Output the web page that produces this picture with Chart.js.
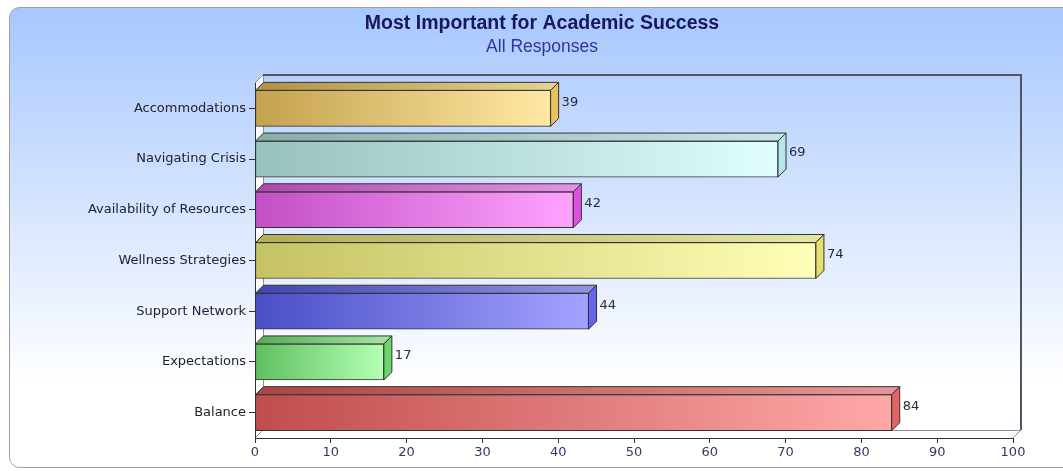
<!DOCTYPE html>
<html>
<head>
<meta charset="utf-8">
<title>Most Important for Academic Success</title>
<script src="https://cdn.jsdelivr.net/npm/chart.js@4.4.0/dist/chart.umd.min.js"></script>
<style>
  html, body { margin: 0; padding: 0; background: #fff; }
  canvas { display: block; }
</style>
</head>
<body>
<canvas id="chart" width="1063" height="471"></canvas>
<script>
const CATEGORIES = [
  'Accommodations',
  'Navigating Crisis',
  'Availability of Resources',
  'Wellness Strategies',
  'Support Network',
  'Expectations',
  'Balance',
];
const RESPONSES = [39, 69, 42, 74, 44, 17, 84];
const X_TICKS = [0, 10, 20, 30, 40, 50, 60, 70, 80, 90, 100];

// bar colours: gradient start/end of the front face, and the right-hand side face
const FRONT_LEFT = ['#c4a24e', '#97c1bd', '#c24fc4', '#c5c262', '#4a4ec6', '#5fbf5f', '#c04d4d'];
const FRONT_RIGHT = ['#ffe9a3', '#e0fefe', '#ffa3ff', '#ffffb8', '#a3a3ff', '#b3ffb3', '#ffa8a8'];
const SIDE = ['#e6c45a', '#b4e8e8', '#e050e0', '#e4e070', '#6464f0', '#6cd66c', '#e46464'];

const DEPTH = 8;
const LABEL_FONT = '"DejaVu Sans", Verdana, sans-serif';

function barGradient(chart, i, x0, x1) {
  const g = chart.ctx.createLinearGradient(x0, 0, x1, 0);
  g.addColorStop(0, FRONT_LEFT[i]);
  g.addColorStop(1, FRONT_RIGHT[i]);
  return g;
}

function frontFill(ctx) {
  const chart = ctx.chart;
  const i = ctx.dataIndex;
  if (i === undefined || !chart.chartArea) return FRONT_LEFT[0];
  const xs = chart.scales.x;
  return barGradient(chart, i, xs.getPixelForValue(0), xs.getPixelForValue(RESPONSES[i]));
}

function poly(ctx, pts) {
  ctx.beginPath();
  ctx.moveTo(pts[0][0], pts[0][1]);
  for (let k = 1; k < pts.length; k++) ctx.lineTo(pts[k][0], pts[k][1]);
  ctx.closePath();
}

// background panel plus the 3D box (back wall, left wall, floor)
const walls = {
  id: 'walls',
  beforeDraw(chart) {
    const { ctx, chartArea: a } = chart;
    const d = DEPTH;
    ctx.save();

    const bg = ctx.createLinearGradient(0, 7, 0, 468);
    bg.addColorStop(0, '#a7c7fe');
    bg.addColorStop(0.82, '#ffffff');
    ctx.beginPath();
    ctx.roundRect(9.5, 7.5, 1090, 460, 10);
    ctx.fillStyle = bg;
    ctx.fill();
    ctx.strokeStyle = '#a0a0a0';
    ctx.lineWidth = 1;
    ctx.stroke();

    ctx.fillStyle = '#ffffff';
    poly(ctx, [[a.left, a.top], [a.left + d, a.top - d], [a.left + d, a.bottom - d], [a.left, a.bottom]]);
    ctx.fill();
    poly(ctx, [[a.left, a.bottom], [a.left + d, a.bottom - d], [a.right + d, a.bottom - d], [a.right, a.bottom]]);
    ctx.fill();

    ctx.strokeStyle = '#8a8f99';
    ctx.lineWidth = 1;
    ctx.beginPath();
    ctx.moveTo(a.left + d + 0.5, a.top - d);
    ctx.lineTo(a.left + d + 0.5, a.bottom - d + 0.5);
    ctx.lineTo(a.right + d, a.bottom - d + 0.5);
    ctx.moveTo(a.left, a.top);
    ctx.lineTo(a.left + d, a.top - d);
    ctx.moveTo(a.left, a.bottom);
    ctx.lineTo(a.left + d, a.bottom - d);
    ctx.moveTo(a.right, a.bottom);
    ctx.lineTo(a.right + d, a.bottom - d);
    ctx.stroke();

    ctx.strokeStyle = '#4f5563';
    ctx.lineWidth = 2;
    ctx.beginPath();
    ctx.moveTo(a.left + d, a.top - d);
    ctx.lineTo(a.right + d, a.top - d);
    ctx.lineTo(a.right + d, a.bottom - d);
    ctx.stroke();
    ctx.restore();
  },
  afterDraw(chart) {
    const ctx = chart.ctx;
    ctx.save();
    ctx.textAlign = 'center';
    ctx.textBaseline = 'middle';
    ctx.fillStyle = '#17175e';
    ctx.font = 'bold 19.5px "Liberation Sans", Arial, sans-serif';
    ctx.fillText('Most Important for Academic Success', 542, 24);
    ctx.fillStyle = '#34349a';
    ctx.font = '17.5px "Liberation Sans", Arial, sans-serif';
    ctx.fillText('All Responses', 542, 47);
    ctx.restore();
  },
};

// top and side faces of each bar, and the value next to it
const bars3d = {
  id: 'bars3d',
  afterDatasetsDraw(chart) {
    const ctx = chart.ctx;
    const d = DEPTH;
    const meta = chart.getDatasetMeta(0);
    ctx.save();
    ctx.lineWidth = 1;
    ctx.strokeStyle = '#333333';
    meta.data.forEach((bar, i) => {
      const { x, y, base, height } = bar.getProps(['x', 'y', 'base', 'height'], true);
      const top = y - height / 2;
      const bottom = y + height / 2;

      poly(ctx, [[base, top], [base + d, top - d], [x + d, top - d], [x, top]]);
      ctx.fillStyle = barGradient(chart, i, base, x);
      ctx.fill();
      ctx.fillStyle = 'rgba(0, 0, 0, 0.1)';
      ctx.fill();
      ctx.stroke();

      poly(ctx, [[x, top], [x + d, top - d], [x + d, bottom - d], [x, bottom]]);
      ctx.fillStyle = SIDE[i];
      ctx.fill();
      ctx.stroke();

      ctx.fillStyle = '#2b2b38';
      ctx.font = '13px ' + LABEL_FONT;
      ctx.textAlign = 'left';
      ctx.textBaseline = 'middle';
      ctx.fillText(String(RESPONSES[i]), x + d + 3, y - 6);
    });
    ctx.restore();
  },
};

new Chart(document.getElementById('chart'), {
  type: 'bar',
  data: {
    labels: CATEGORIES,
    datasets: [{
      data: RESPONSES,
      backgroundColor: frontFill,
      borderColor: '#333333',
      borderWidth: 1,
      borderSkipped: false,
      barThickness: 36,
    }],
  },
  options: {
    indexAxis: 'y',
    responsive: false,
    animation: false,
    devicePixelRatio: 1,
    layout: { padding: { top: 83, right: 50, left: 0, bottom: 0 } },
    plugins: {
      legend: { display: false },
      tooltip: { enabled: false },
    },
    scales: {
      x: {
        min: 0,
        max: 100,
        afterBuildTicks: (scale) => { scale.ticks = X_TICKS.map((v) => ({ value: v })); },
        afterFit: (scale) => { scale.height = 33; },
        grid: { drawOnChartArea: false, tickLength: 5, color: '#333333' },
        border: { color: '#333333', width: 1 },
        ticks: {
          color: '#3a3466',
          font: { family: LABEL_FONT, size: 13 },
          padding: 2,
          maxRotation: 0,
          autoSkip: false,
        },
      },
      y: {
        afterFit: (scale) => { scale.width = 255; },
        grid: { offset: false, drawOnChartArea: false, tickLength: 6, color: '#333333' },
        border: { color: '#333333', width: 1 },
        ticks: {
          color: '#22222e',
          font: { family: LABEL_FONT, size: 13 },
          padding: 3,
          autoSkip: false,
        },
      },
    },
  },
  plugins: [walls, bars3d],
});
</script>
</body>
</html>
